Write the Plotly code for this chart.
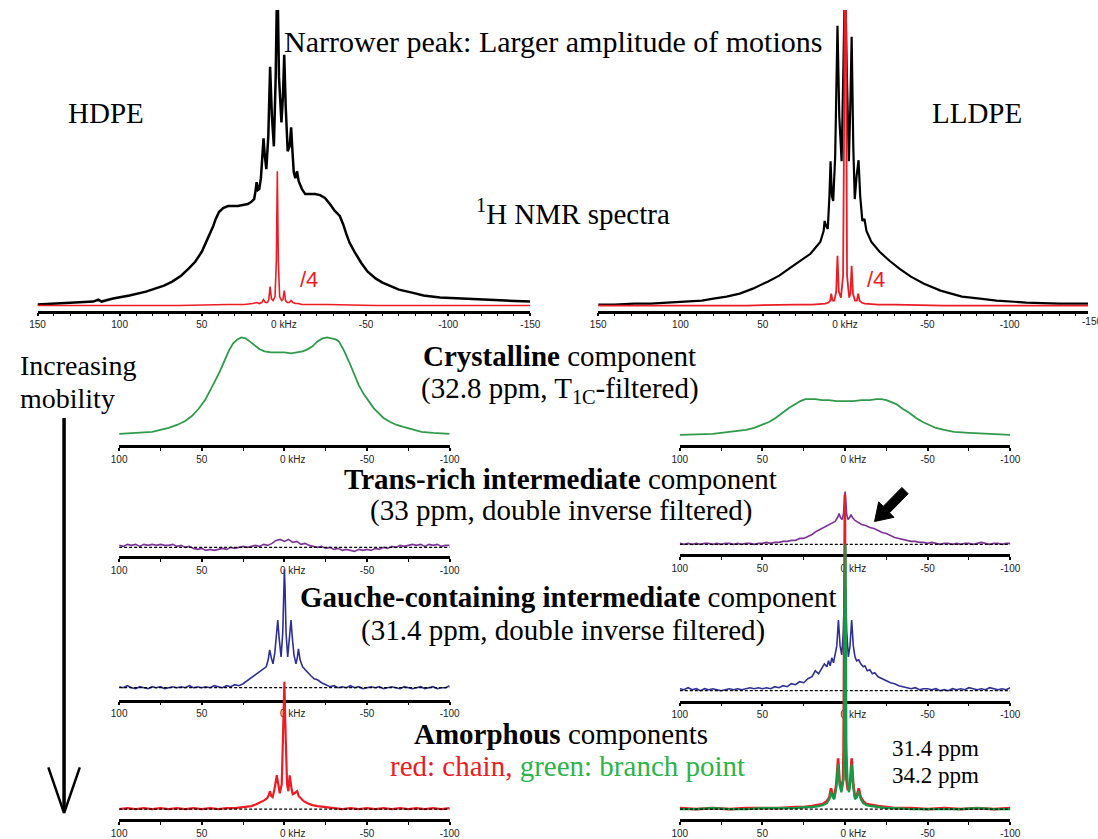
import plotly.graph_objects as go

W, H = 1098, 839

# ---------------- data (kHz, intensity in arbitrary units) ----------------
hdpe_x = [150,138,126,116,113,111,104,94,84,78,73,68,62.6,58,54,50,46,43,41.5,39.5,37,34,31,28,25,22,20,19,18.1,17.3,16.6,15.8,15,14,13.2,12.4,11.6,10.7,9.5,8.4,7.3,6.1,5,4,
          3,1.5,0.6,-0.2,-1.1,-2.3,-3.5,-4.4,-5.2,-6,-7,-8,-9,-11,-13,-16,-19,-22,-25,-28,-31,-34,-36,-38,-40,-43,-47,-51,-56,-60,-64,-70,-78,-85,-95,-106,-120,-135,-150]
hdpe_y = [1,2,3,4,6,4,7,10,14,17,20,24,30,37,44,54,68,80,87,94,98,100,100,100,101,102,104,106,107,115,124,116,117,128,150,168,150,137,170,240,190,160,230,340,
          230,184,210,252,200,155,160,179,155,134,128,135,125,117,112,112,112,111,108,102,95,90,82,72,63,54,43,34,27,23,20,16,13,10,8,7,6,5,4]

hdpe_red_x = [150,64,34,24,19,16.6,15,13.5,12.4,11.3,10,9.2,8.4,7.6,6.6,5.4,4.6,4,3.4,2.6,1.4,0.6,-0.2,-1,-2,-3.3,-4.4,-5.5,-7,-8.6,-11,-16,-26,-56,-150]
hdpe_red_y = [0,0,1,1,2,3,2,3,6,3,3,6,19,7,5,9,45,135,45,9,5,6,15,5,3,3,5,3,2,2,1,1,1,0,0]

lldpe_x = [150,140,128,118,108,98,87,80,72,64,56,47,40,34,27,21,17,15,13,12.4,11.5,10.5,9.5,8.8,8,7.2,6,4.6,3.5,2.1,1,0,
           -1,-2.3,-3.2,-4,-5,-5.9,-7,-8.2,-9.2,-10.5,-11.8,-13,-16,-21,-27,-33,-40,-48,-58,-71,-82,-92,-110,-130,-148]
lldpe_y = [1,1,2,2,3,4,5,7,9,12,17,24,30,37,45,52,60,64,75,85,80,77,110,145,110,105,150,281,190,145,240,340,
           240,145,200,270,160,107,130,146,110,85,87,75,64,54,45,37,29,22,15,9,7,5,3,2,2]

lldpe_red_x = [150,60,30,20,12,10,9,8.4,7.6,6.5,5.4,4.6,3.8,2.5,1.2,0.5,0,-0.5,-1.2,-2.5,-3.3,-4,-4.8,-6,-7.2,-8,-8.8,-10,-12,-20,-30,-60,-148]
lldpe_red_y = [0,0,1,1,2,3,5,12,5,5,14,50,14,8,30,200,520,200,30,8,12,40,12,5,5,12,5,3,2,1,1,0,0]

cryst_l_x = [100,90,80,75,70,65,60,56,52,48,45,42,39,36,33.5,31,28.5,26,23.5,21,18,15,12,8,4,0,
             -4,-8,-11,-14,-17,-20,-23,-26,-28.5,-31,-33,-36,-39,-42,-45,-48,-51,-54,-57,-60,-64,-68,-72,-77,-83,-90,-100]
cryst_l_y = [0,1,2,4,6,9,13,18,25,34,43,53,63,74,84,91,95,97,96,93,89,85,83,82,82,82,
             81,82,83,85,88,93,96,97,96,95,93,84,73,61,49,40,33,26,21,16,12,9,7,5,2,1,0]

cryst_r_x = [100,90,80,70,60,55,50,46,42,38,34,30,27,24,21,18,14,10,5,0,
             -5,-10,-15,-19,-22,-25,-28,-31,-35,-39,-43,-47,-51,-55,-60,-66,-75,-85,-100]
cryst_r_y = [0,0.5,1,3,5,7,10,13,17,22,27,31,34,36,36,36,35,35,34,34,
             34,35,35,36,36,35,33,31,26,22,17,13,10,7,5,3,2,1,0]

trans_l_x = [100,97.5,95,92.5,90,87.5,85,82.5,80,77.5,75,72.5,70,67.5,65,62.5,60,57.5,55,52.5,50,47.5,45,42.5,40,37.5,35,32.5,30,27.5,25,22.5,20,17.5,15,12.5,10,7.5,5,2.5,0,
             -2.5,-5,-7.5,-10,-12.5,-15,-17.5,-20,-22.5,-25,-27.5,-30,-32.5,-35,-37.5,-40,-42.5,-45,-47.5,-50,-52.5,-55,-57.5,-60,-62.5,-65,-67.5,-70,-72.5,-75,-77.5,-80,-82.5,-85,-87.5,-90,-92.5,-95,-97.5,-100]
trans_l_y = [2,1,3,2,3,1,3,2,3,2,3,2,2,3,1,2,0,1,-1,-2,-1,-3,-2,-3,-2,-1,-2,0,-1,0,1,0,1,2,1,3,2,4,7,8,6,
             8,5,6,3,4,2,1,0,1,-1,0,-2,-1,-3,-2,-3,-4,-2,-3,-2,-3,-1,-2,0,-1,1,0,2,1,2,3,2,3,1,3,2,3,1,2,2]

trans_r_x = [100,97.5,95,92.5,90,87.5,85,82.5,80,77.5,75,72.5,70,67.5,65,62.5,60,57.5,55,52.5,50,47.5,45,42.5,40,37.5,35,32.5,30,27.5,25,22.5,20,17.5,15,12.5,10,8,6,4.5,3.6,2.8,1.8,1,0.4,0,
             -0.4,-1,-1.8,-2.8,-3.6,-4.5,-6,-8,-10,-12.5,-15,-17.5,-20,-22.5,-25,-27.5,-30,-32.5,-35,-37.5,-40,-42.5,-45,-47.5,-50,-52.5,-55,-57.5,-60,-62.5,-65,-67.5,-70,-72.5,-75,-77.5,-80,-82.5,-85,-87.5,-90,-92.5,-95,-97.5,-100]
trans_r_y = [1,0,1,0,1,0,1,1,0,1,0,1,1,0,1,0,1,1,0,1,1,2,1,2,2,3,3,4,4,6,6,8,10,13,15,17,19,21,23,27,31,27,25,30,45,53,
             45,30,25,27,30,27,24,22,20,19,17,16,14,12,11,9,7,6,5,4,3,3,2,2,1,2,1,0,1,1,0,1,0,1,1,0,1,2,1,0,1,1,0,1,1]

gauche_l_x = [100,97.5,95,92.5,90,87.5,85,82.5,80,77.5,75,72.5,70,67.5,65,62.5,60,57.5,55,52.5,50,47.5,45,42.5,40,37.5,35,32.5,30,27.5,25,22.5,20,17.5,15,13,11,9.8,8.9,7.9,6.9,5.8,4.8,4.0,3.2,2.0,1.0,0.4,0,
              -0.4,-1.0,-2.0,-3.2,-4.0,-4.8,-5.8,-7.0,-7.8,-8.5,-9.5,-11,-12.5,-14,-16,-18,-20,-22.5,-25,-27.5,-30,-32.5,-35,-37.5,-40,-42.5,-45,-47.5,-50,-52.5,-55,-57.5,-60,-62.5,-65,-67.5,-70,-72.5,-75,-77.5,-80,-82.5,-85,-87.5,-90,-92.5,-95,-97.5,-100]
gauche_l_y = [1,0,2,0,-1,1,0,-1,1,0,1,-1,0,1,0,1,0,2,0,1,0,1,0,2,1,0,2,1,3,2,4,7,10,13,16,19,21,28,38,30,24,35,50,68,50,31,55,100,119,
              100,55,31,50,68,50,33,24,30,39,28,21,18,16,12,9,8,5,3,1,2,0,1,0,2,0,1,-1,0,1,0,1,-1,0,1,0,-1,1,0,-1,0,1,-1,0,1,-1,0,0,2]

gauche_r_x = [100,97.5,95,92.5,90,87.5,85,82.5,80,77.5,75,72.5,70,67.5,65,62.5,60,57.5,55,52.5,50,47.5,45,42.5,40,37.5,35,32.5,30,27.5,25,22.5,20,18,16,14,12.5,11,10,9,8,7,6,5,4,3,2,1,0.4,0,
              -0.4,-1,-2,-3,-4,-5,-6,-7,-8.3,-9.5,-11,-12,-13.5,-15,-16.5,-18,-20,-22.5,-25,-27.5,-30,-32.5,-35,-37.5,-40,-42.5,-45,-47.5,-50,-52.5,-55,-57.5,-60,-62.5,-65,-67.5,-70,-72.5,-75,-77.5,-80,-82.5,-85,-87.5,-90,-92.5,-95,-97.5,-100]
gauche_r_y = [2,1,3,1,2,0,2,1,2,1,0,1,2,1,2,1,2,3,2,3,2,3,2,4,3,5,4,7,6,9,8,12,14,20,17,22,27,24,30,25,33,28,39,45,71,45,36,60,100,107,
              100,60,34,45,71,45,34,30,31,27,24,25,20,21,17,18,14,12,10,8,7,5,4,3,2,3,1,2,2,1,2,0,1,0,2,1,2,1,3,2,1,2,1,3,2,1,2,1,3]

amor_l_x = [100,95,90,85,80,75,70,65,60,55,50,45,40,35,30,25,20,17,14,12,10.5,9.5,8.7,7.9,7.1,6,4.6,3.7,2.8,1.6,0.5,0,
            -0.5,-1.6,-2.4,-3.2,-4.2,-5,-6.2,-7.7,-8.7,-10,-11.7,-14,-17,-20,-25,-30,-35,-40,-45,-50,-55,-60,-65,-70,-75,-80,-85,-90,-95,-100]
amor_l_y = [0,1,0,1,0,1,0,1,0,1,0,1,0,1,1,2,3,5,7,9,11,14,18,13,12,20,34,22,16,25,90,128,
            90,25,18,34,22,15,16,18,13,11,8,6,4,3,2,1,0,1,0,1,0,1,0,1,0,1,0,1,0,1]

amor_r_x = [100,90,80,70,60,50,40,30,25,20,16,13.5,11,9.5,8.5,7.5,6.5,5.3,4.2,3.3,2.2,1.2,0.9,0.5,0.1,
            -0.3,-0.8,-1.6,-2.4,-3.2,-4,-5,-6,-7.2,-8.3,-9.5,-11,-13,-16,-20,-25,-30,-40,-50,-60,-70,-80,-90,-100]
amor_r_red = [1,0,1,0,1,1,1,2,2,3,4,5,8,12,21,14,12,25,51,28,20,30,60,316,316,
              80,30,20,20,30,51,25,12,14,21,12,8,5,4,3,2,1,1,0,1,0,1,0,1]
amor_r_green = [0,0,1,0,0,1,1,1,2,2,3,4,6,10,17,12,10,22,45,24,17,25,30,60,266,
                266,60,25,17,26,45,22,10,12,18,10,6,4,3,2,1,1,0,0,0,0,1,0,0]

top_ticks = [150, 100, 50, 0, -50, -100, -150]
top_ticktext = ["150", "100", "50", "0 kHz", "-50", "-100", "-150"]
low_ticks = [100, 50, 0, -50, -100]
low_ticktext = ["100", "50", "\u00a0\u00a0\u00a0\u00a0\u00a0\u00a00 kHz", "-50", "-100"]

# ---------------- colours ----------------
BLACK = "#000000"
RED = "#ec1c24"
GREEN_C = "#2f9a4a"
GREEN_A = "#159a47"
PURPLE = "#7b3494"
NAVY = "#2e3192"
TXT_GREEN = "#2db34a"

fig = go.Figure()

def py(px):
    return 1 - px / H

def px_x(px):
    return px / W

# panels: name, x domain px, x range, axis px, baseline px, top px, ticks, ticktext, minor dtick
panels = [
    ("1", (30, 531), [150, -150], 312, 307, 10, top_ticks, top_ticktext, 10),
    ("2", (600, 1098), [150, -147.6], 312, 307, 10, top_ticks, top_ticktext, 10),
    ("3", (113, 449), [100, -100], 447, 436, 330, low_ticks, low_ticktext, 25),
    ("4", (683, 1019), [100, -100], 447, 437, 330, low_ticks, low_ticktext, 25),
    ("5", (113, 449), [100, -100], 559, 550, 530, low_ticks, low_ticktext, 25),
    ("6", (683, 1019), [100, -100], 557, 547, 480, low_ticks, low_ticktext, 25),
    ("7", (113, 449), [100, -100], 703, 691, 565, low_ticks, low_ticktext, 25),
    ("8", (683, 1019), [100, -100], 704, 694, 580, low_ticks, low_ticktext, 25),
    ("9", (113, 449), [100, -100], 823, 813, 680, low_ticks, low_ticktext, 25),
    ("10", (683, 1019), [100, -100], 823, 813, 490, low_ticks, low_ticktext, 25),
]

layout_axes = {}
for name, (x0, x1), xr, axis_px, base_px, top_px, tv, tt, mdt in panels:
    lo = -(axis_px - base_px)
    hi = lo + (axis_px - top_px)
    xkey = "xaxis" if name == "1" else f"xaxis{name}"
    ykey = "yaxis" if name == "1" else f"yaxis{name}"
    layout_axes[xkey] = dict(
        domain=[px_x(x0), px_x(x1)], range=xr, anchor=("y" if name == "1" else f"y{name}"),
        showgrid=False, zeroline=False, showline=True, linecolor="black", linewidth=2.5,
        ticks="outside", ticklen=3, tickwidth=1.5, tickcolor="black",
        tickvals=tv, ticktext=tt,
        tickfont=dict(family="Liberation Sans", size=10, color="#222"),
        minor=dict(dtick=mdt, ticks="outside", ticklen=3, tickwidth=1.2, tickcolor="black", showgrid=False),
        fixedrange=True,
    )
    layout_axes[ykey] = dict(
        domain=[py(axis_px), py(top_px)], range=[lo, hi], visible=False,
        anchor=("x" if name == "1" else f"x{name}"), fixedrange=True,
    )

def add(x, y, ax, color, width, dash=None):
    fig.add_trace(go.Scatter(
        x=x, y=y, mode="lines", xaxis="x" if ax == "1" else f"x{ax}",
        yaxis="y" if ax == "1" else f"y{ax}",
        line=dict(color=color, width=width, dash=dash), showlegend=False, hoverinfo="skip"))

# top spectra
add(hdpe_x, hdpe_y, "1", BLACK, 2.5)
add(hdpe_red_x, hdpe_red_y, "1", RED, 1.6)
add(lldpe_x, lldpe_y, "2", BLACK, 2.2)
add(lldpe_red_x, lldpe_red_y, "2", RED, 1.8)
# crystalline
add(cryst_l_x, cryst_l_y, "3", GREEN_C, 1.8)
add(cryst_r_x, cryst_r_y, "4", GREEN_C, 1.8)
# trans-rich
add(trans_l_x, trans_l_y, "5", PURPLE, 1.6)
add([100, -100], [0, 0], "5", BLACK, 1.3, "3px,2px")
add(trans_r_x, trans_r_y, "6", PURPLE, 1.6)
add([100, -100], [0, 0], "6", BLACK, 1.3, "3px,2px")
# gauche
add(gauche_l_x, gauche_l_y, "7", NAVY, 1.6)
add([100, -100], [0, 0], "7", BLACK, 1.3, "3px,2px")
add(gauche_r_x, gauche_r_y, "8", NAVY, 1.6)
add([100, -100], [0, 0], "8", BLACK, 1.3, "3px,2px")
# amorphous
add(amor_l_x, amor_l_y, "9", RED, 2.2)
add([100, -100], [0, 0], "9", BLACK, 1.3, "3px,2px")
add(amor_r_x, amor_r_red, "10", RED, 2.6)
add(amor_r_x, amor_r_green, "10", GREEN_A, 2.2)
add([100, -100], [0, 0], "10", BLACK, 1.3, "3px,2px")

SERIF = "Liberation Serif"
texts = [
    ("Narrower peak: Larger amplitude of motions", 554, 42, 30, BLACK, "center"),
    ("HDPE", 100, 114, 29, BLACK, "center"),
    ("LLDPE", 985, 114, 29, BLACK, "center"),
    ("<sup>1</sup>H NMR spectra", 574, 213, 29, BLACK, "center"),
    ("Increasing", 10, 367, 28, BLACK, "left"),
    ("mobility", 10, 400, 28, BLACK, "left"),
    ("<b>Crystalline</b> component", 561, 358, 29, BLACK, "center"),
    ("(32.8 ppm, T<sub>1C</sub>-filtered)", 561, 392, 29, BLACK, "center"),
    ("<b>Trans-rich intermediate</b> component", 562, 481, 29, BLACK, "center"),
    ("(33 ppm, double inverse filtered)", 563, 513, 29, BLACK, "center"),
    ("<b>Gauche-containing intermediate</b> component", 569, 600, 29, BLACK, "center"),
    ("(31.4 ppm, double inverse filtered)", 564, 634, 29, BLACK, "center"),
    ("<b>Amorphous</b> components", 562, 738, 29, BLACK, "center"),
    (f"<span style='color:{RED}'>red: chain,</span> <span style='color:{TXT_GREEN}'>green: branch point</span>", 569, 770, 29, BLACK, "center"),
    ("31.4 ppm", 897, 752, 23, BLACK, "left"),
    ("34.2 ppm", 897, 779, 23, BLACK, "left"),
]
annotations = []
for t, x, y, s, c, anc in texts:
    annotations.append(dict(text=t, x=px_x(x), y=py(y), xref="paper", yref="paper",
                            xanchor=anc, yanchor="middle", showarrow=False,
                            font=dict(family=SERIF, size=s, color=c)))
for x in (306, 882):
    annotations.append(dict(text="/4", x=px_x(x), y=py(281), xref="paper", yref="paper",
                            xanchor="center", yanchor="middle", showarrow=False,
                            font=dict(family="Liberation Sans", size=22, color=RED)))
# the right-top axis is cut by the page edge: its -150 label is only partly visible
annotations.append(dict(text="-150", x=px_x(1102), y=py(323), xref="paper", yref="paper",
                        xanchor="center", yanchor="middle", showarrow=False,
                        font=dict(family="Liberation Sans", size=10, color="#222")))

# black block arrow (tail upper right, tip lower left)
arrow_pts = [(915.2, 496.2), (896.2, 515.2), (900.8, 519.8), (881, 524),
             (885.2, 504.2), (889.8, 508.8), (908.8, 489.8)]
arrow_path = "M " + " L ".join(f"{px_x(a):.5f} {py(b):.5f}" for a, b in arrow_pts) + " Z"

shapes = [
    dict(type="line", xref="paper", yref="paper", x0=px_x(57), x1=px_x(57), y0=py(420), y1=py(815),
         line=dict(color="black", width=3.5)),
    dict(type="line", xref="paper", yref="paper", x0=px_x(41), x1=px_x(57), y0=py(771), y1=py(817),
         line=dict(color="black", width=2.5)),
    dict(type="line", xref="paper", yref="paper", x0=px_x(73), x1=px_x(57), y0=py(771), y1=py(817),
         line=dict(color="black", width=2.5)),
    dict(type="path", xref="paper", yref="paper", path=arrow_path,
         fillcolor="black", line=dict(color="black", width=1)),
]

fig.update_layout(
    width=W, height=H, autosize=False,
    margin=dict(l=0, r=0, t=0, b=0),
    paper_bgcolor="white", plot_bgcolor="rgba(0,0,0,0)",
    showlegend=False,
    annotations=annotations, shapes=shapes,
    **layout_axes,
)

fig.write_html("out.html")
